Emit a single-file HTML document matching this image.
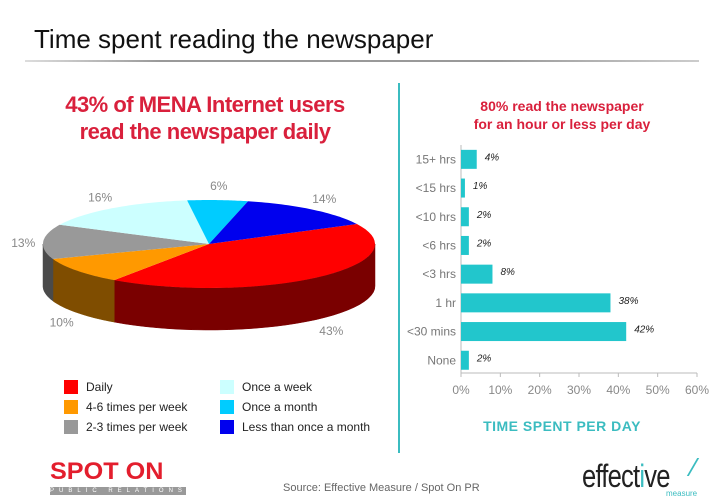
<!DOCTYPE html>
<html><head><meta charset="utf-8"><style>
body{margin:0;background:#fff;font-family:"Liberation Sans",sans-serif}
#w{position:relative;width:728px;height:504px;overflow:hidden}
.a{position:absolute;white-space:nowrap}
</style></head><body>
<div id="w">
<div class="a" style="left:34px;top:24px;font-size:26px;color:#111">Time spent reading the newspaper</div>
<div class="a" style="left:25px;top:60px;width:674px;height:2px;background:linear-gradient(90deg,#ddd,#999 20%,#999 70%,#ccc)"></div>
<div class="a" style="left:398px;top:83px;width:2px;height:370px;background:#3bbcc0"></div>
<div class="a" style="left:20px;top:91px;width:370px;text-align:center;font-size:22px;font-weight:bold;color:#d9203c;line-height:27px;white-space:normal;letter-spacing:-0.5px">43% of MENA Internet users<br>read the newspaper daily</div>
<div class="a" style="left:440px;top:97px;width:244px;text-align:center;font-size:14px;font-weight:bold;color:#d9203c;line-height:18px">80% read the newspaper<br>for an hour or less per day</div>
<svg class="a" style="left:0;top:0" width="728" height="504" id="svg"></svg>
<div class="a" style="left:440px;top:418px;width:244px;text-align:center;font-size:14px;font-weight:bold;color:#3bbcc0;letter-spacing:0.5px">TIME SPENT PER DAY</div>
<div id="legend"></div>
<div class="a" style="left:283px;top:482px;font-size:11px;color:#666">Source: Effective Measure / Spot On PR</div>
<div class="a" style="left:50px;top:460px;font-size:24px;font-weight:bold;color:#e31e2d;line-height:24px;transform:scaleX(1.05);transform-origin:left">SPOT ON</div>
<div class="a" style="left:50px;top:487px;width:136px;height:8px;background:#999;color:#fff;font-size:6px;line-height:8px;letter-spacing:5px;text-align:center">PUBLIC RELATIONS</div>
<div class="a" style="left:582px;top:458px;font-size:32px;color:#222;letter-spacing:-1px;transform:scaleX(0.8);transform-origin:left">effect<span style="color:#3bbcc0">i</span>ve</div>
<div class="a" style="left:676px;top:458px;width:16px;height:18px;border-right:2px solid #3bbcc0;transform:skewX(-30deg)"></div>
<div class="a" style="left:666px;top:489px;font-size:8px;color:#3bbcc0">measure</div>
</div>
<script>
const pieLabels=["Daily","4-6 times per week","2-3 times per week","Once a week","Once a month","Less than once a month"];
const pieValues=[43,10,13,16,6,14];
const pieColors=["#ff0000","#ff9900","#999999","#ccffff","#00ccff","#0000ee"];
const pieSide=["#7a0000","#7f4d00","#4a4a4a","#6a8080","#006a80","#000077"];
const barCats=["15+ hrs","<15 hrs","<10 hrs","<6 hrs","<3 hrs","1 hr","<30 mins","None"];
const barValues=[4,1,2,2,8,38,42,2];
const xTicks=[0,10,20,30,40,50,60];

const NS="http://www.w3.org/2000/svg",svg=document.getElementById('svg');
function mk(t,at,txt){const e=document.createElementNS(NS,t);for(const k in at)e.setAttribute(k,at[k]);if(txt!=null)e.textContent=txt;svg.appendChild(e);return e;}
const cx=209,cy=244,rx=166,ry=44,dep=42,start=-27;
const total=pieValues.reduce((a,b)=>a+b,0);
const P=(t,d)=>[cx+rx*Math.cos(t*Math.PI/180),cy+ry*Math.sin(t*Math.PI/180)+(d||0)];
let angs=[],a=start;
pieValues.forEach(v=>{const b=a+v/total*360;angs.push([a,b]);a=b;});
angs.forEach(([s,e],i)=>{
  for(let k=-1;k<=1;k++){
    let lo=Math.max(s,k*360),hi=Math.min(e,k*360+180);
    if(hi<=lo)continue;
    let d="",n=30;
    for(let j=0;j<=n;j++){const p=P(lo+(hi-lo)*j/n);d+=(j?"L":"M")+p[0].toFixed(1)+","+p[1].toFixed(1);}
    for(let j=n;j>=0;j--){const p=P(lo+(hi-lo)*j/n,dep);d+="L"+p[0].toFixed(1)+","+p[1].toFixed(1);}
    const el=mk('path',{d:d+"Z",fill:pieSide[i],stroke:pieSide[i],'stroke-width':0.5});
    
    
  }
});
angs.forEach(([s,e],i)=>{
  let d="M"+cx+","+cy,n=40;
  for(let j=0;j<=n;j++){const p=P(s+(e-s)*j/n);d+="L"+p[0].toFixed(1)+","+p[1].toFixed(1);}
  const el=mk('path',{d:d+"Z",fill:pieColors[i]});
  
  
  const m=(s+e)/2*Math.PI/180;
  const lx=cx+(rx+20)*Math.cos(m),ly=cy+(ry+16)*Math.sin(m)+(Math.sin(m)>0?dep+4:6);
  const t=mk('text',{x:lx,y:ly,'font-size':12,fill:'#888','text-anchor':'middle','font-family':'Liberation Sans'},pieValues[i]+"%");
  
  
});
const lg=document.getElementById('legend');
pieLabels.forEach((l,i)=>{
  const col=i<3?0:1,row=i%3;
  const d=document.createElement('div');
  d.className='a';
  
  
  d.style.cssText=`left:${64+col*156}px;top:${380+row*20}px;font-size:12px;color:#222;line-height:14px`;
  d.innerHTML=`<span style="display:inline-block;width:14px;height:14px;background:${pieColors[i]};vertical-align:top;margin-right:8px"></span>${l}`;
  lg.appendChild(d);
});
const x0=461,x1=697,xmax=60,yTop=145,step=28.7,bh=19;
const X=v=>x0+(x1-x0)*v/xmax;
const Y=i=>yTop+step*(i+0.5);
let el=mk('line',{x1:x0,y1:yTop,x2:x0,y2:373,stroke:'#bbb'});

el=mk('line',{x1:x0,y1:373,x2:x1,y2:373,stroke:'#bbb'});

xTicks.forEach(t=>{
  const l=mk('line',{x1:X(t),y1:373,x2:X(t),y2:377,stroke:'#bbb'});
  
  const tx=mk('text',{x:X(t),y:394,'font-size':12,fill:'#888','text-anchor':'middle','font-family':'Liberation Sans'},t+"%");
  
});
barCats.forEach((c,i)=>{
  const y=Y(i);
  const r=mk('rect',{x:x0,y:y-bh/2,width:X(barValues[i])-x0,height:bh,fill:'#22c6cc'});
  
  const t=mk('text',{x:456,y:y+4,'font-size':12,fill:'#777','text-anchor':'end','font-family':'Liberation Sans'},c);
  
  const v=mk('text',{x:X(barValues[i])+8,y:y+1,'font-size':10,'font-style':'italic',fill:'#222','font-family':'Liberation Sans'},barValues[i]+"%");
  
});
</script>
</body></html>
